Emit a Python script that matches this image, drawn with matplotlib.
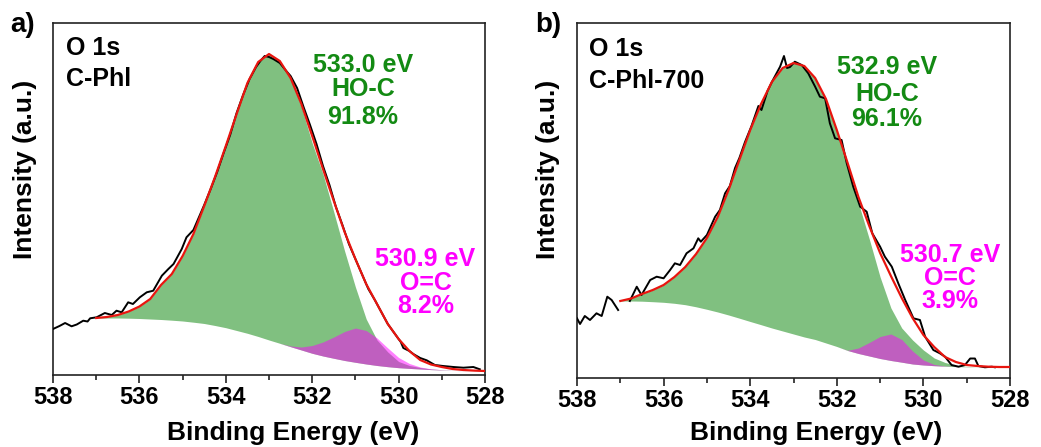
import numpy as np
import matplotlib
matplotlib.use("Agg")
import matplotlib.pyplot as plt

plt.rcParams['font.family'] = ['Liberation Sans', 'DejaVu Sans']
plt.rcParams['font.weight'] = 'bold'

# ---------------- data ----------------
E_FIT = [537.0, 536.75, 536.5, 536.25, 536.0, 535.75, 535.5, 535.25, 535.0,
         534.75, 534.5, 534.25, 534.0, 533.75, 533.5, 533.25, 533.0,
         532.75, 532.5, 532.25, 532.0, 531.75, 531.5, 531.25, 531.0,
         530.75, 530.5, 530.25, 530.0, 529.75, 529.5, 529.25, 529.0,
         528.75, 528.5, 528.25, 528.0]

# panel a (C-Phl)
A_BG = [57, 57, 57, 56.8, 56.5, 56, 55.5, 54.8, 54,
        52.8, 51.5, 49.5, 47.3, 44.5, 41.7, 38.5, 35,
        31.7, 28.3, 25, 21.7, 19, 16.7, 14.5, 12.7,
        11, 9.5, 8.3, 7.3, 6.6, 6, 5.4, 5,
        4.6, 4.3, 4.1, 4]
A_FIT = [57, 58, 60, 63.5, 68.5, 76, 90, 101, 119,
         141, 169, 198, 229, 261, 292, 313, 321,
         314, 297, 271, 239, 206, 174, 143, 116,
         91, 71, 51, 36, 24, 15, 10.5, 8,
         6, 5, 4.4, 4]
A_HOC = [57, 58, 60, 63.5, 68.5, 76, 90, 101, 119,
         141, 169, 198, 229, 261, 292, 313, 321,
         314, 296, 268, 232, 201, 163, 124, 88,
         56, 35, 23, 13.5, 9.5, 7.5, 6, 5.3,
         4.7, 4.35, 4.1, 4]
A_OC = [57, 57, 57, 56.8, 56.5, 56, 55.5, 54.8, 54,
        52.8, 51.5, 49.5, 47.3, 44.5, 41.7, 38.5, 35,
        31.7, 29, 28, 29.5, 33, 38, 43.5, 47,
        44.5, 37, 27, 17.5, 11.5, 8, 6.2, 5.3,
        4.7, 4.35, 4.1, 4]
A_RAW_E = [538.0, 537.85, 537.72, 537.57, 537.45, 537.30, 537.2, 537.14, 536.99,
           536.8, 536.64, 536.53, 536.41, 536.26, 536.15, 535.99, 535.83, 535.68,
           535.48, 535.33, 535.21, 535.02, 534.91, 534.75, 534.6, 534.5, 534.35,
           534.2, 534.05, 533.9, 533.75, 533.6, 533.45, 533.3, 533.2, 533.1,
           533.0, 532.9, 532.75, 532.6, 532.5, 532.35, 532.2, 532.05, 531.9,
           531.75, 531.6, 531.45, 531.3, 531.15, 531.0, 530.85, 530.7, 530.55,
           530.4, 530.25, 530.1, 529.95, 529.89, 529.75, 529.66, 529.5, 529.35,
           529.16, 528.97, 528.73, 528.5, 528.27, 528.12]
A_RAW_I = [46, 49, 52, 48.7, 50.5, 54.3, 53.5, 56.7, 57.7,
           62, 60, 64.3, 62.7, 72.7, 71, 77.7, 82.7, 84.3,
           99.3, 106, 111, 126, 137.7, 145, 160, 170, 186,
           203, 222, 240, 262, 280, 296, 308, 314, 319,
           318, 316, 312, 304, 299, 287, 268, 250, 231,
           209, 190, 168, 150, 131, 116, 101, 86, 75,
           63, 51, 42, 33, 27, 24, 21, 17, 14.7,
           10, 9, 8, 7.3, 8, 5.7]

# panel b (C-Phl-700)
B_BG = [77, 77, 76.8, 76.3, 75.7, 74.7, 73.3, 71.2, 68.7,
        66, 63, 59.8, 56.5, 53.3, 50, 47, 44,
        41, 38.5, 35, 31.5, 27.5, 24.5, 22, 19.5,
        17.5, 15.8, 14, 13, 12.3, 11.8, 11.4, 11.2,
        11.1, 11, 11, 11]
B_FIT = [77, 79.5, 84, 88, 93, 101, 111, 124, 140,
         161, 188, 218, 248, 274, 296, 310, 315,
         312, 300, 279, 248, 215, 181, 152, 125,
         102, 80, 60, 43, 31, 21, 16, 13,
         12, 11.3, 11, 11]
B_HOC = [77, 79.5, 84, 88, 93, 101, 111, 124, 140,
         161, 188, 218, 248, 274, 296, 310, 315,
         312, 300, 279, 248, 212, 175, 139, 101,
         70, 50, 38, 28, 20, 15.5, 12.8, 11.6,
         11.2, 11.05, 11, 11]
B_OC = [77, 77, 76.8, 76.3, 75.7, 74.7, 73.3, 71.2, 68.7,
        66, 63, 59.8, 56.5, 53.3, 50, 47, 44,
        41, 38.5, 35, 31.5, 27.7, 30, 35.5, 41.5,
        44, 38.5, 27, 18, 13.5, 12, 11.5, 11.2,
        11.1, 11, 11, 11]
B_RAW_E = [538.0, 537.93, 537.82, 537.7, 537.55, 537.43, 537.30, 537.2, 537.05,
           536.9, 536.78, 536.62, 536.51, 536.31, 536.16, 536.0, 535.85, 535.74,
           535.62, 535.47, 535.31, 535.2, 535.14, 535.0, 534.81, 534.7, 534.58,
           534.47, 534.35, 534.25, 534.12, 533.97, 533.81, 533.74, 533.6, 533.5,
           533.31, 533.22, 533.15, 533.08, 532.97, 532.81, 532.66, 532.5, 532.39,
           532.27, 532.16, 532.04, 531.89, 531.77, 531.62, 531.46, 531.31, 531.18,
           531.0, 530.89, 530.73, 530.58, 530.42, 530.23, 530.08, 529.96, 529.77,
           529.62, 529.5, 529.35, 529.19, 529.04, 528.92, 528.81, 528.73, 528.58,
           528.42, 528.35]
B_RAW_I = [59.7, 54, 62, 58, 64.7, 62, 81.3, 78, 68,
           np.nan, 77, 91.3, 83, 98, 101.3, 99.7, 108, 114.7,
           113, 124.7, 129.7, 139.7, 136.3, 143, 161.3, 168, 184.7,
           192, 210, 220, 236, 252, 272, 268, 287, 296,
           311.3, 322, 310, 311, 316.3, 313, 304.7, 291.3, 281.3,
           279.7, 254.7, 239.7, 238, 214.7, 191.3, 171.3, 166.3, 144.7,
           131.3, 121.3, 111.3, 94.7, 78, 59.7, 58, 41.3, 28,
           24.7, 21.3, 13, 11.3, 13, 19.5, 19.5, 12, 10.7,
           11.3, 10.7]

TICKS_MAJOR = [538, 536, 534, 532, 530, 528]
TICKS_MINOR = [537, 535, 533, 531, 529]
XLABEL = "Binding Energy (eV)"
YLABEL = "Intensity (a.u.)"

PANELS = [
    dict(tag="a)", name="C-Phl", bg=A_BG, fit=A_FIT, hoc=A_HOC, oc=A_OC,
         raw_e=A_RAW_E, raw_i=A_RAW_I,
         hoc_txt=["533.0 eV", "HO-C", "91.8%"], oc_txt=["530.9 eV", "O=C", "8.2%"]),
    dict(tag="b)", name="C-Phl-700", bg=B_BG, fit=B_FIT, hoc=B_HOC, oc=B_OC,
         raw_e=B_RAW_E, raw_i=B_RAW_I,
         hoc_txt=["532.9 eV", "HO-C", "96.1%"], oc_txt=["530.7 eV", "O=C", "3.9%"]),
]

# ---------------- layout (pixels) ----------------
W, H = 1041, 447
fig = plt.figure(figsize=(W / 100, H / 100), dpi=100)

def fx(x):
    return x / W

def fy(y):
    return 1 - y / H

layout = [
    dict(l=53, r=485, t=23, b=375, ymax=352,
         tag_xy=(10, 31.5), lab1=(66, 55), lab2=(66, 86.5),
         hoc_x=363, hoc_y=[71.5, 96.5, 124.5], oc_x=425.5, oc_y=[266, 289.5, 313],
         xl=(293, 440), yl=(25, 169)),
    dict(l=577, r=1010, t=23.3, b=378, ymax=354.7,
         tag_xy=(535, 31.5), lab1=(589, 56.5), lab2=(589, 88),
         hoc_x=887, hoc_y=[74.5, 101, 126], oc_x=950, oc_y=[261.5, 285, 308],
         xl=(816, 440), yl=(547.5, 169)),
]

GREEN_FILL = '#80c080'
MAG = '#ff00ff'
GREEN_TXT = '#138a13'

for p, L in zip(PANELS, layout):
    ax = fig.add_axes([fx(L['l']), fy(L['b']), (L['r'] - L['l']) / W, (L['b'] - L['t']) / H])
    e = np.array(E_FIT)
    ax.fill_between(e, p['bg'], p['hoc'], color=GREEN_FILL, lw=0, zorder=1)
    ax.fill_between(e, p['bg'], p['oc'], color=MAG, alpha=0.5, lw=0, zorder=2)
    ax.plot(p['raw_e'], p['raw_i'], color='black', lw=1.4, zorder=3)
    ax.plot(e, p['fit'], color='#e8150f', lw=1.6, zorder=4)

    ax.set_xlim(538, 528)
    ax.set_ylim(0, L['ymax'])
    ax.set_xticks(TICKS_MAJOR)
    ax.set_xticklabels([str(t) for t in TICKS_MAJOR])
    ax.set_xticks(TICKS_MINOR, minor=True)
    ax.set_yticks([])
    ax.tick_params(axis='x', which='major', direction='out', length=6, width=1.2,
                   labelsize=17, pad=2, color='#222222')
    ax.tick_params(axis='x', which='minor', direction='out', length=3.5, width=1.2,
                   color='#222222')
    for lab in ax.get_xticklabels():
        lab.set_fontweight('bold')
    for s in ax.spines.values():
        s.set_linewidth(1.2)
        s.set_color('#222222')

    fig.text(fx(L['tag_xy'][0]), fy(L['tag_xy'][1]), p['tag'], fontsize=20,
             fontweight='bold', ha='left', va='baseline')
    fig.text(fx(L['lab1'][0]), fy(L['lab1'][1]), "O 1s", fontsize=18,
             fontweight='bold', ha='left', va='baseline')
    fig.text(fx(L['lab2'][0]), fy(L['lab2'][1]), p['name'], fontsize=18,
             fontweight='bold', ha='left', va='baseline')
    for t, yy in zip(p['hoc_txt'], L['hoc_y']):
        fig.text(fx(L['hoc_x']), fy(yy), t, fontsize=18, fontweight='bold',
                 color=GREEN_TXT, ha='center', va='baseline')
    for t, yy in zip(p['oc_txt'], L['oc_y']):
        fig.text(fx(L['oc_x']), fy(yy), t, fontsize=18, fontweight='bold',
                 color=MAG, ha='center', va='baseline')
    fig.text(fx(L['xl'][0]), fy(L['xl'][1]), XLABEL, fontsize=19, fontweight='bold',
             ha='center', va='baseline')
    fig.text(fx(L['yl'][0]), fy(L['yl'][1]), YLABEL, fontsize=19, fontweight='bold',
             ha='center', va='center', rotation=90)

fig.savefig("out.png", dpi=100, facecolor='white')
